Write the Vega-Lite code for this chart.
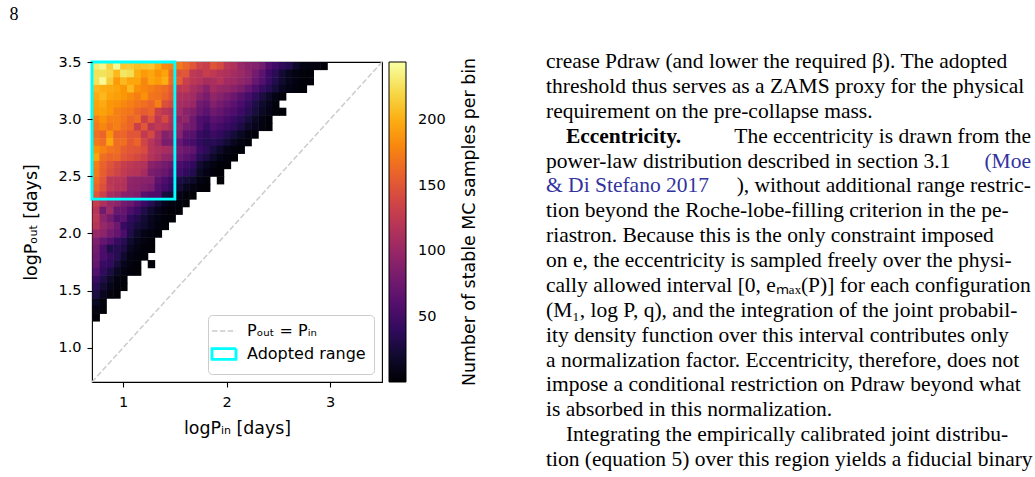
{
"$schema": "https://vega.github.io/schema/vega-lite/v6.json",
"background": "white",
"padding": {"left": 9, "top": 6, "right": 0, "bottom": 0},
"title": {"text": "8", "anchor": "start", "frame": "bounds", "font": "Liberation Serif", "fontSize": 18, "fontWeight": "normal", "color": "black", "dx": -13, "offset": 27},
"datasets": {
"cells": [
{"pin":0.7,"pout":3.4333,"n":232},{"pin":0.7667,"pout":3.4333,"n":238},{"pin":0.8333,"pout":3.4333,"n":218},{"pin":0.9,"pout":3.4333,"n":240},{"pin":0.9667,"pout":3.4333,"n":212},{"pin":1.0333,"pout":3.4333,"n":214},{"pin":1.1,"pout":3.4333,"n":208},{"pin":1.1667,"pout":3.4333,"n":210},{"pin":1.2333,"pout":3.4333,"n":212},{"pin":1.3,"pout":3.4333,"n":198},{"pin":1.3667,"pout":3.4333,"n":182},{"pin":1.4333,"pout":3.4333,"n":178},{"pin":1.5,"pout":3.4333,"n":172},{"pin":1.5667,"pout":3.4333,"n":162},{"pin":1.6333,"pout":3.4333,"n":150},{"pin":1.7,"pout":3.4333,"n":135},{"pin":1.7667,"pout":3.4333,"n":130},{"pin":1.8333,"pout":3.4333,"n":148},{"pin":1.9,"pout":3.4333,"n":140},{"pin":1.9667,"pout":3.4333,"n":120},{"pin":2.0333,"pout":3.4333,"n":115},{"pin":2.1,"pout":3.4333,"n":100},{"pin":2.1667,"pout":3.4333,"n":92},{"pin":2.2333,"pout":3.4333,"n":88},{"pin":2.3,"pout":3.4333,"n":80},{"pin":2.3667,"pout":3.4333,"n":58},{"pin":2.4333,"pout":3.4333,"n":48},{"pin":2.5,"pout":3.4333,"n":38},{"pin":2.5667,"pout":3.4333,"n":32},{"pin":2.6333,"pout":3.4333,"n":18},{"pin":2.7,"pout":3.4333,"n":10},{"pin":2.7667,"pout":3.4333,"n":8},{"pin":2.8333,"pout":3.4333,"n":6},{"pin":2.9,"pout":3.4333,"n":4},
{"pin":0.7,"pout":3.3667,"n":225},{"pin":0.7667,"pout":3.3667,"n":226},{"pin":0.8333,"pout":3.3667,"n":222},{"pin":0.9,"pout":3.3667,"n":205},{"pin":0.9667,"pout":3.3667,"n":228},{"pin":1.0333,"pout":3.3667,"n":224},{"pin":1.1,"pout":3.3667,"n":200},{"pin":1.1667,"pout":3.3667,"n":190},{"pin":1.2333,"pout":3.3667,"n":196},{"pin":1.3,"pout":3.3667,"n":186},{"pin":1.3667,"pout":3.3667,"n":195},{"pin":1.4333,"pout":3.3667,"n":165},{"pin":1.5,"pout":3.3667,"n":148},{"pin":1.5667,"pout":3.3667,"n":150},{"pin":1.6333,"pout":3.3667,"n":124},{"pin":1.7,"pout":3.3667,"n":120},{"pin":1.7667,"pout":3.3667,"n":130},{"pin":1.8333,"pout":3.3667,"n":125},{"pin":1.9,"pout":3.3667,"n":118},{"pin":1.9667,"pout":3.3667,"n":115},{"pin":2.0333,"pout":3.3667,"n":108},{"pin":2.1,"pout":3.3667,"n":102},{"pin":2.1667,"pout":3.3667,"n":94},{"pin":2.2333,"pout":3.3667,"n":80},{"pin":2.3,"pout":3.3667,"n":66},{"pin":2.3667,"pout":3.3667,"n":46},{"pin":2.4333,"pout":3.3667,"n":36},{"pin":2.5,"pout":3.3667,"n":22},{"pin":2.5667,"pout":3.3667,"n":13},{"pin":2.6333,"pout":3.3667,"n":8},{"pin":2.7,"pout":3.3667,"n":5},{"pin":2.7667,"pout":3.3667,"n":3},
{"pin":0.7,"pout":3.3,"n":226},{"pin":0.7667,"pout":3.3,"n":240},{"pin":0.8333,"pout":3.3,"n":215},{"pin":0.9,"pout":3.3,"n":190},{"pin":0.9667,"pout":3.3,"n":205},{"pin":1.0333,"pout":3.3,"n":196},{"pin":1.1,"pout":3.3,"n":196},{"pin":1.1667,"pout":3.3,"n":180},{"pin":1.2333,"pout":3.3,"n":196},{"pin":1.3,"pout":3.3,"n":190},{"pin":1.3667,"pout":3.3,"n":200},{"pin":1.4333,"pout":3.3,"n":165},{"pin":1.5,"pout":3.3,"n":155},{"pin":1.5667,"pout":3.3,"n":132},{"pin":1.6333,"pout":3.3,"n":122},{"pin":1.7,"pout":3.3,"n":118},{"pin":1.7667,"pout":3.3,"n":110},{"pin":1.8333,"pout":3.3,"n":112},{"pin":1.9,"pout":3.3,"n":118},{"pin":1.9667,"pout":3.3,"n":106},{"pin":2.0333,"pout":3.3,"n":104},{"pin":2.1,"pout":3.3,"n":96},{"pin":2.1667,"pout":3.3,"n":90},{"pin":2.2333,"pout":3.3,"n":72},{"pin":2.3,"pout":3.3,"n":60},{"pin":2.3667,"pout":3.3,"n":44},{"pin":2.4333,"pout":3.3,"n":32},{"pin":2.5,"pout":3.3,"n":20},{"pin":2.5667,"pout":3.3,"n":12},{"pin":2.6333,"pout":3.3,"n":7},{"pin":2.7,"pout":3.3,"n":4},{"pin":2.7667,"pout":3.3,"n":3},
{"pin":0.7,"pout":3.2333,"n":205},{"pin":0.7667,"pout":3.2333,"n":200},{"pin":0.8333,"pout":3.2333,"n":198},{"pin":0.9,"pout":3.2333,"n":195},{"pin":0.9667,"pout":3.2333,"n":188},{"pin":1.0333,"pout":3.2333,"n":205},{"pin":1.1,"pout":3.2333,"n":185},{"pin":1.1667,"pout":3.2333,"n":180},{"pin":1.2333,"pout":3.2333,"n":175},{"pin":1.3,"pout":3.2333,"n":170},{"pin":1.3667,"pout":3.2333,"n":165},{"pin":1.4333,"pout":3.2333,"n":155},{"pin":1.5,"pout":3.2333,"n":122},{"pin":1.5667,"pout":3.2333,"n":125},{"pin":1.6333,"pout":3.2333,"n":112},{"pin":1.7,"pout":3.2333,"n":104},{"pin":1.7667,"pout":3.2333,"n":92},{"pin":1.8333,"pout":3.2333,"n":108},{"pin":1.9,"pout":3.2333,"n":100},{"pin":1.9667,"pout":3.2333,"n":98},{"pin":2.0333,"pout":3.2333,"n":92},{"pin":2.1,"pout":3.2333,"n":84},{"pin":2.1667,"pout":3.2333,"n":70},{"pin":2.2333,"pout":3.2333,"n":58},{"pin":2.3,"pout":3.2333,"n":44},{"pin":2.3667,"pout":3.2333,"n":34},{"pin":2.4333,"pout":3.2333,"n":24},{"pin":2.5,"pout":3.2333,"n":14},{"pin":2.5667,"pout":3.2333,"n":9},{"pin":2.6333,"pout":3.2333,"n":5},{"pin":2.7,"pout":3.2333,"n":3},
{"pin":0.7,"pout":3.1667,"n":198},{"pin":0.7667,"pout":3.1667,"n":205},{"pin":0.8333,"pout":3.1667,"n":195},{"pin":0.9,"pout":3.1667,"n":192},{"pin":0.9667,"pout":3.1667,"n":188},{"pin":1.0333,"pout":3.1667,"n":182},{"pin":1.1,"pout":3.1667,"n":175},{"pin":1.1667,"pout":3.1667,"n":185},{"pin":1.2333,"pout":3.1667,"n":170},{"pin":1.3,"pout":3.1667,"n":168},{"pin":1.3667,"pout":3.1667,"n":160},{"pin":1.4333,"pout":3.1667,"n":150},{"pin":1.5,"pout":3.1667,"n":115},{"pin":1.5667,"pout":3.1667,"n":112},{"pin":1.6333,"pout":3.1667,"n":106},{"pin":1.7,"pout":3.1667,"n":92},{"pin":1.7667,"pout":3.1667,"n":82},{"pin":1.8333,"pout":3.1667,"n":96},{"pin":1.9,"pout":3.1667,"n":90},{"pin":1.9667,"pout":3.1667,"n":82},{"pin":2.0333,"pout":3.1667,"n":74},{"pin":2.1,"pout":3.1667,"n":62},{"pin":2.1667,"pout":3.1667,"n":52},{"pin":2.2333,"pout":3.1667,"n":40},{"pin":2.3,"pout":3.1667,"n":28},{"pin":2.3667,"pout":3.1667,"n":18},{"pin":2.4333,"pout":3.1667,"n":10},{"pin":2.5,"pout":3.1667,"n":4},
{"pin":0.7,"pout":3.1,"n":194},{"pin":0.7667,"pout":3.1,"n":198},{"pin":0.8333,"pout":3.1,"n":188},{"pin":0.9,"pout":3.1,"n":185},{"pin":0.9667,"pout":3.1,"n":180},{"pin":1.0333,"pout":3.1,"n":175},{"pin":1.1,"pout":3.1,"n":170},{"pin":1.1667,"pout":3.1,"n":166},{"pin":1.2333,"pout":3.1,"n":160},{"pin":1.3,"pout":3.1,"n":175},{"pin":1.3667,"pout":3.1,"n":146},{"pin":1.4333,"pout":3.1,"n":140},{"pin":1.5,"pout":3.1,"n":110},{"pin":1.5667,"pout":3.1,"n":106},{"pin":1.6333,"pout":3.1,"n":100},{"pin":1.7,"pout":3.1,"n":78},{"pin":1.7667,"pout":3.1,"n":72},{"pin":1.8333,"pout":3.1,"n":88},{"pin":1.9,"pout":3.1,"n":80},{"pin":1.9667,"pout":3.1,"n":72},{"pin":2.0333,"pout":3.1,"n":64},{"pin":2.1,"pout":3.1,"n":54},{"pin":2.1667,"pout":3.1,"n":42},{"pin":2.2333,"pout":3.1,"n":30},{"pin":2.3,"pout":3.1,"n":20},{"pin":2.3667,"pout":3.1,"n":12},{"pin":2.4333,"pout":3.1,"n":5},
{"pin":0.7,"pout":3.0333,"n":192},{"pin":0.7667,"pout":3.0333,"n":194},{"pin":0.8333,"pout":3.0333,"n":188},{"pin":0.9,"pout":3.0333,"n":176},{"pin":0.9667,"pout":3.0333,"n":172},{"pin":1.0333,"pout":3.0333,"n":170},{"pin":1.1,"pout":3.0333,"n":160},{"pin":1.1667,"pout":3.0333,"n":155},{"pin":1.2333,"pout":3.0333,"n":160},{"pin":1.3,"pout":3.0333,"n":132},{"pin":1.3667,"pout":3.0333,"n":122},{"pin":1.4333,"pout":3.0333,"n":118},{"pin":1.5,"pout":3.0333,"n":106},{"pin":1.5667,"pout":3.0333,"n":92},{"pin":1.6333,"pout":3.0333,"n":86},{"pin":1.7,"pout":3.0333,"n":72},{"pin":1.7667,"pout":3.0333,"n":64},{"pin":1.8333,"pout":3.0333,"n":76},{"pin":1.9,"pout":3.0333,"n":70},{"pin":1.9667,"pout":3.0333,"n":62},{"pin":2.0333,"pout":3.0333,"n":56},{"pin":2.1,"pout":3.0333,"n":46},{"pin":2.1667,"pout":3.0333,"n":36},{"pin":2.2333,"pout":3.0333,"n":26},{"pin":2.3,"pout":3.0333,"n":16},{"pin":2.3667,"pout":3.0333,"n":10},{"pin":2.4333,"pout":3.0333,"n":5},{"pin":2.5,"pout":3.0333,"n":3},
{"pin":0.7,"pout":2.9667,"n":176},{"pin":0.7667,"pout":2.9667,"n":186},{"pin":0.8333,"pout":2.9667,"n":176},{"pin":0.9,"pout":2.9667,"n":176},{"pin":0.9667,"pout":2.9667,"n":170},{"pin":1.0333,"pout":2.9667,"n":160},{"pin":1.1,"pout":2.9667,"n":165},{"pin":1.1667,"pout":2.9667,"n":132},{"pin":1.2333,"pout":2.9667,"n":150},{"pin":1.3,"pout":2.9667,"n":122},{"pin":1.3667,"pout":2.9667,"n":140},{"pin":1.4333,"pout":2.9667,"n":116},{"pin":1.5,"pout":2.9667,"n":92},{"pin":1.5667,"pout":2.9667,"n":96},{"pin":1.6333,"pout":2.9667,"n":76},{"pin":1.7,"pout":2.9667,"n":58},{"pin":1.7667,"pout":2.9667,"n":52},{"pin":1.8333,"pout":2.9667,"n":64},{"pin":1.9,"pout":2.9667,"n":60},{"pin":1.9667,"pout":2.9667,"n":52},{"pin":2.0333,"pout":2.9667,"n":44},{"pin":2.1,"pout":2.9667,"n":36},{"pin":2.1667,"pout":2.9667,"n":26},{"pin":2.2333,"pout":2.9667,"n":16},{"pin":2.3,"pout":2.9667,"n":9},{"pin":2.3667,"pout":2.9667,"n":4},
{"pin":0.7,"pout":2.9,"n":172},{"pin":0.7667,"pout":2.9,"n":180},{"pin":0.8333,"pout":2.9,"n":170},{"pin":0.9,"pout":2.9,"n":176},{"pin":0.9667,"pout":2.9,"n":166},{"pin":1.0333,"pout":2.9,"n":160},{"pin":1.1,"pout":2.9,"n":132},{"pin":1.1667,"pout":2.9,"n":150},{"pin":1.2333,"pout":2.9,"n":118},{"pin":1.3,"pout":2.9,"n":126},{"pin":1.3667,"pout":2.9,"n":120},{"pin":1.4333,"pout":2.9,"n":112},{"pin":1.5,"pout":2.9,"n":96},{"pin":1.5667,"pout":2.9,"n":82},{"pin":1.6333,"pout":2.9,"n":76},{"pin":1.7,"pout":2.9,"n":58},{"pin":1.7667,"pout":2.9,"n":44},{"pin":1.8333,"pout":2.9,"n":56},{"pin":1.9,"pout":2.9,"n":50},{"pin":1.9667,"pout":2.9,"n":44},{"pin":2.0333,"pout":2.9,"n":38},{"pin":2.1,"pout":2.9,"n":28},{"pin":2.1667,"pout":2.9,"n":18},{"pin":2.2333,"pout":2.9,"n":12},{"pin":2.3,"pout":2.9,"n":6},{"pin":2.3667,"pout":2.9,"n":3},
{"pin":0.7,"pout":2.8333,"n":166},{"pin":0.7667,"pout":2.8333,"n":160},{"pin":0.8333,"pout":2.8333,"n":186},{"pin":0.9,"pout":2.8333,"n":160},{"pin":0.9667,"pout":2.8333,"n":160},{"pin":1.0333,"pout":2.8333,"n":150},{"pin":1.1,"pout":2.8333,"n":150},{"pin":1.1667,"pout":2.8333,"n":126},{"pin":1.2333,"pout":2.8333,"n":140},{"pin":1.3,"pout":2.8333,"n":112},{"pin":1.3667,"pout":2.8333,"n":88},{"pin":1.4333,"pout":2.8333,"n":96},{"pin":1.5,"pout":2.8333,"n":90},{"pin":1.5667,"pout":2.8333,"n":66},{"pin":1.6333,"pout":2.8333,"n":62},{"pin":1.7,"pout":2.8333,"n":44},{"pin":1.7667,"pout":2.8333,"n":38},{"pin":1.8333,"pout":2.8333,"n":46},{"pin":1.9,"pout":2.8333,"n":40},{"pin":1.9667,"pout":2.8333,"n":32},{"pin":2.0333,"pout":2.8333,"n":24},{"pin":2.1,"pout":2.8333,"n":16},{"pin":2.1667,"pout":2.8333,"n":9},{"pin":2.2333,"pout":2.8333,"n":4},
{"pin":0.7,"pout":2.7667,"n":172},{"pin":0.7667,"pout":2.7667,"n":166},{"pin":0.8333,"pout":2.7667,"n":196},{"pin":0.9,"pout":2.7667,"n":166},{"pin":0.9667,"pout":2.7667,"n":166},{"pin":1.0333,"pout":2.7667,"n":152},{"pin":1.1,"pout":2.7667,"n":160},{"pin":1.1667,"pout":2.7667,"n":136},{"pin":1.2333,"pout":2.7667,"n":120},{"pin":1.3,"pout":2.7667,"n":106},{"pin":1.3667,"pout":2.7667,"n":82},{"pin":1.4333,"pout":2.7667,"n":86},{"pin":1.5,"pout":2.7667,"n":72},{"pin":1.5667,"pout":2.7667,"n":58},{"pin":1.6333,"pout":2.7667,"n":52},{"pin":1.7,"pout":2.7667,"n":40},{"pin":1.7667,"pout":2.7667,"n":34},{"pin":1.8333,"pout":2.7667,"n":36},{"pin":1.9,"pout":2.7667,"n":30},{"pin":1.9667,"pout":2.7667,"n":22},{"pin":2.0333,"pout":2.7667,"n":14},{"pin":2.1,"pout":2.7667,"n":8},{"pin":2.1667,"pout":2.7667,"n":4},
{"pin":0.7,"pout":2.7,"n":186},{"pin":0.7667,"pout":2.7,"n":178},{"pin":0.8333,"pout":2.7,"n":170},{"pin":0.9,"pout":2.7,"n":166},{"pin":0.9667,"pout":2.7,"n":156},{"pin":1.0333,"pout":2.7,"n":150},{"pin":1.1,"pout":2.7,"n":148},{"pin":1.1667,"pout":2.7,"n":142},{"pin":1.2333,"pout":2.7,"n":120},{"pin":1.3,"pout":2.7,"n":114},{"pin":1.3667,"pout":2.7,"n":110},{"pin":1.4333,"pout":2.7,"n":108},{"pin":1.5,"pout":2.7,"n":80},{"pin":1.5667,"pout":2.7,"n":74},{"pin":1.6333,"pout":2.7,"n":68},{"pin":1.7,"pout":2.7,"n":46},{"pin":1.7667,"pout":2.7,"n":38},{"pin":1.8333,"pout":2.7,"n":26},{"pin":1.9,"pout":2.7,"n":18},{"pin":1.9667,"pout":2.7,"n":10},{"pin":2.0333,"pout":2.7,"n":5},{"pin":2.1,"pout":2.7,"n":3},
{"pin":0.7,"pout":2.6333,"n":196},{"pin":0.7667,"pout":2.6333,"n":166},{"pin":0.8333,"pout":2.6333,"n":160},{"pin":0.9,"pout":2.6333,"n":162},{"pin":0.9667,"pout":2.6333,"n":150},{"pin":1.0333,"pout":2.6333,"n":146},{"pin":1.1,"pout":2.6333,"n":140},{"pin":1.1667,"pout":2.6333,"n":132},{"pin":1.2333,"pout":2.6333,"n":118},{"pin":1.3,"pout":2.6333,"n":110},{"pin":1.3667,"pout":2.6333,"n":98},{"pin":1.4333,"pout":2.6333,"n":96},{"pin":1.5,"pout":2.6333,"n":72},{"pin":1.5667,"pout":2.6333,"n":64},{"pin":1.6333,"pout":2.6333,"n":56},{"pin":1.7,"pout":2.6333,"n":36},{"pin":1.7667,"pout":2.6333,"n":28},{"pin":1.8333,"pout":2.6333,"n":18},{"pin":1.9,"pout":2.6333,"n":10},{"pin":1.9667,"pout":2.6333,"n":5},{"pin":2.0333,"pout":2.6333,"n":3},
{"pin":0.7,"pout":2.5667,"n":175},{"pin":0.7667,"pout":2.5667,"n":158},{"pin":0.8333,"pout":2.5667,"n":148},{"pin":0.9,"pout":2.5667,"n":140},{"pin":0.9667,"pout":2.5667,"n":130},{"pin":1.0333,"pout":2.5667,"n":124},{"pin":1.1,"pout":2.5667,"n":120},{"pin":1.1667,"pout":2.5667,"n":116},{"pin":1.2333,"pout":2.5667,"n":92},{"pin":1.3,"pout":2.5667,"n":86},{"pin":1.3667,"pout":2.5667,"n":80},{"pin":1.4333,"pout":2.5667,"n":72},{"pin":1.5,"pout":2.5667,"n":54},{"pin":1.5667,"pout":2.5667,"n":48},{"pin":1.6333,"pout":2.5667,"n":40},{"pin":1.7,"pout":2.5667,"n":22},{"pin":1.7667,"pout":2.5667,"n":14},{"pin":1.8333,"pout":2.5667,"n":8},{"pin":1.9,"pout":2.5667,"n":4},{"pin":1.9667,"pout":2.5667,"n":2},
{"pin":0.7,"pout":2.5,"n":172},{"pin":0.7667,"pout":2.5,"n":156},{"pin":0.8333,"pout":2.5,"n":144},{"pin":0.9,"pout":2.5,"n":136},{"pin":0.9667,"pout":2.5,"n":126},{"pin":1.0333,"pout":2.5,"n":120},{"pin":1.1,"pout":2.5,"n":118},{"pin":1.1667,"pout":2.5,"n":108},{"pin":1.2333,"pout":2.5,"n":84},{"pin":1.3,"pout":2.5,"n":78},{"pin":1.3667,"pout":2.5,"n":72},{"pin":1.4333,"pout":2.5,"n":62},{"pin":1.5,"pout":2.5,"n":48},{"pin":1.5667,"pout":2.5,"n":40},{"pin":1.6333,"pout":2.5,"n":32},{"pin":1.7,"pout":2.5,"n":16},{"pin":1.7667,"pout":2.5,"n":9},{"pin":1.8333,"pout":2.5,"n":4},{"pin":1.9,"pout":2.5,"n":2},
{"pin":0.7,"pout":2.4333,"n":165},{"pin":0.7667,"pout":2.4333,"n":150},{"pin":0.8333,"pout":2.4333,"n":122},{"pin":0.9,"pout":2.4333,"n":120},{"pin":0.9667,"pout":2.4333,"n":118},{"pin":1.0333,"pout":2.4333,"n":96},{"pin":1.1,"pout":2.4333,"n":94},{"pin":1.1667,"pout":2.4333,"n":92},{"pin":1.2333,"pout":2.4333,"n":90},{"pin":1.3,"pout":2.4333,"n":66},{"pin":1.3667,"pout":2.4333,"n":56},{"pin":1.4333,"pout":2.4333,"n":46},{"pin":1.5,"pout":2.4333,"n":28},{"pin":1.5667,"pout":2.4333,"n":24},{"pin":1.6333,"pout":2.4333,"n":18},{"pin":1.7,"pout":2.4333,"n":8},{"pin":1.7667,"pout":2.4333,"n":5},{"pin":1.9,"pout":2.4333,"n":2},
{"pin":0.7,"pout":2.3667,"n":160},{"pin":0.7667,"pout":2.3667,"n":145},{"pin":0.8333,"pout":2.3667,"n":124},{"pin":0.9,"pout":2.3667,"n":118},{"pin":0.9667,"pout":2.3667,"n":116},{"pin":1.0333,"pout":2.3667,"n":94},{"pin":1.1,"pout":2.3667,"n":92},{"pin":1.1667,"pout":2.3667,"n":88},{"pin":1.2333,"pout":2.3667,"n":82},{"pin":1.3,"pout":2.3667,"n":60},{"pin":1.3667,"pout":2.3667,"n":50},{"pin":1.4333,"pout":2.3667,"n":40},{"pin":1.5,"pout":2.3667,"n":22},{"pin":1.5667,"pout":2.3667,"n":14},{"pin":1.6333,"pout":2.3667,"n":8},{"pin":1.7,"pout":2.3667,"n":4},{"pin":1.7667,"pout":2.3667,"n":2},
{"pin":0.7,"pout":2.3,"n":150},{"pin":0.7667,"pout":2.3,"n":132},{"pin":0.8333,"pout":2.3,"n":110},{"pin":0.9,"pout":2.3,"n":104},{"pin":0.9667,"pout":2.3,"n":92},{"pin":1.0333,"pout":2.3,"n":90},{"pin":1.1,"pout":2.3,"n":86},{"pin":1.1667,"pout":2.3,"n":62},{"pin":1.2333,"pout":2.3,"n":58},{"pin":1.3,"pout":2.3,"n":56},{"pin":1.3667,"pout":2.3,"n":26},{"pin":1.4333,"pout":2.3,"n":22},{"pin":1.5,"pout":2.3,"n":10},{"pin":1.5667,"pout":2.3,"n":5},{"pin":1.6333,"pout":2.3,"n":2},
{"pin":0.7,"pout":2.2333,"n":130},{"pin":0.7667,"pout":2.2333,"n":114},{"pin":0.8333,"pout":2.2333,"n":100},{"pin":0.9,"pout":2.2333,"n":94},{"pin":0.9667,"pout":2.2333,"n":80},{"pin":1.0333,"pout":2.2333,"n":74},{"pin":1.1,"pout":2.2333,"n":60},{"pin":1.1667,"pout":2.2333,"n":46},{"pin":1.2333,"pout":2.2333,"n":34},{"pin":1.3,"pout":2.2333,"n":22},{"pin":1.3667,"pout":2.2333,"n":12},{"pin":1.4333,"pout":2.2333,"n":8},{"pin":1.5,"pout":2.2333,"n":5},{"pin":1.5667,"pout":2.2333,"n":2},
{"pin":0.7,"pout":2.1667,"n":120},{"pin":0.7667,"pout":2.1667,"n":78},{"pin":0.8333,"pout":2.1667,"n":104},{"pin":0.9,"pout":2.1667,"n":72},{"pin":0.9667,"pout":2.1667,"n":70},{"pin":1.0333,"pout":2.1667,"n":56},{"pin":1.1,"pout":2.1667,"n":45},{"pin":1.1667,"pout":2.1667,"n":30},{"pin":1.2333,"pout":2.1667,"n":20},{"pin":1.3,"pout":2.1667,"n":12},{"pin":1.3667,"pout":2.1667,"n":6},{"pin":1.4333,"pout":2.1667,"n":4},{"pin":1.5,"pout":2.1667,"n":2},
{"pin":0.7,"pout":2.1,"n":124},{"pin":0.7667,"pout":2.1,"n":94},{"pin":0.8333,"pout":2.1,"n":80},{"pin":0.9,"pout":2.1,"n":60},{"pin":0.9667,"pout":2.1,"n":64},{"pin":1.0333,"pout":2.1,"n":40},{"pin":1.1,"pout":2.1,"n":32},{"pin":1.1667,"pout":2.1,"n":22},{"pin":1.2333,"pout":2.1,"n":14},{"pin":1.3,"pout":2.1,"n":8},{"pin":1.3667,"pout":2.1,"n":4},{"pin":1.4333,"pout":2.1,"n":2},
{"pin":0.7,"pout":2.0333,"n":120},{"pin":0.7667,"pout":2.0333,"n":100},{"pin":0.8333,"pout":2.0333,"n":90},{"pin":0.9,"pout":2.0333,"n":75},{"pin":0.9667,"pout":2.0333,"n":45},{"pin":1.0333,"pout":2.0333,"n":35},{"pin":1.1,"pout":2.0333,"n":25},{"pin":1.1667,"pout":2.0333,"n":20},{"pin":1.2333,"pout":2.0333,"n":12},{"pin":1.3,"pout":2.0333,"n":6},{"pin":1.3667,"pout":2.0333,"n":3},
{"pin":0.7,"pout":1.9667,"n":100},{"pin":0.7667,"pout":1.9667,"n":95},{"pin":0.8333,"pout":1.9667,"n":80},{"pin":0.9,"pout":1.9667,"n":70},{"pin":0.9667,"pout":1.9667,"n":55},{"pin":1.0333,"pout":1.9667,"n":30},{"pin":1.1,"pout":1.9667,"n":18},{"pin":1.1667,"pout":1.9667,"n":10},{"pin":1.2333,"pout":1.9667,"n":6},{"pin":1.3,"pout":1.9667,"n":3},
{"pin":0.7,"pout":1.9,"n":85},{"pin":0.7667,"pout":1.9,"n":70},{"pin":0.8333,"pout":1.9,"n":60},{"pin":0.9,"pout":1.9,"n":45},{"pin":0.9667,"pout":1.9,"n":35},{"pin":1.0333,"pout":1.9,"n":20},{"pin":1.1,"pout":1.9,"n":12},{"pin":1.1667,"pout":1.9,"n":6},{"pin":1.2333,"pout":1.9,"n":3},
{"pin":0.7,"pout":1.8333,"n":80},{"pin":0.7667,"pout":1.8333,"n":55},{"pin":0.8333,"pout":1.8333,"n":30},{"pin":0.9,"pout":1.8333,"n":35},{"pin":0.9667,"pout":1.8333,"n":28},{"pin":1.0333,"pout":1.8333,"n":14},{"pin":1.1,"pout":1.8333,"n":8},{"pin":1.1667,"pout":1.8333,"n":4},{"pin":1.2333,"pout":1.8333,"n":2},
{"pin":0.7,"pout":1.7667,"n":75},{"pin":0.7667,"pout":1.7667,"n":55},{"pin":0.8333,"pout":1.7667,"n":45},{"pin":0.9,"pout":1.7667,"n":35},{"pin":0.9667,"pout":1.7667,"n":20},{"pin":1.0333,"pout":1.7667,"n":10},{"pin":1.1,"pout":1.7667,"n":5},{"pin":1.1667,"pout":1.7667,"n":2},
{"pin":0.7,"pout":1.7,"n":70},{"pin":0.7667,"pout":1.7,"n":45},{"pin":0.8333,"pout":1.7,"n":40},{"pin":0.9,"pout":1.7,"n":25},{"pin":0.9667,"pout":1.7,"n":12},{"pin":1.0333,"pout":1.7,"n":6},{"pin":1.1,"pout":1.7,"n":3},{"pin":1.2333,"pout":1.7,"n":2},
{"pin":0.7,"pout":1.6333,"n":60},{"pin":0.7667,"pout":1.6333,"n":40},{"pin":0.8333,"pout":1.6333,"n":28},{"pin":0.9,"pout":1.6333,"n":15},{"pin":0.9667,"pout":1.6333,"n":8},{"pin":1.0333,"pout":1.6333,"n":4},{"pin":1.1,"pout":1.6333,"n":2},
{"pin":0.7,"pout":1.5667,"n":45},{"pin":0.7667,"pout":1.5667,"n":30},{"pin":0.8333,"pout":1.5667,"n":18},{"pin":0.9,"pout":1.5667,"n":8},{"pin":0.9667,"pout":1.5667,"n":3},
{"pin":0.7,"pout":1.5,"n":35},{"pin":0.7667,"pout":1.5,"n":22},{"pin":0.8333,"pout":1.5,"n":12},{"pin":0.9,"pout":1.5,"n":5},{"pin":0.9667,"pout":1.5,"n":2},
{"pin":0.7,"pout":1.4333,"n":28},{"pin":0.7667,"pout":1.4333,"n":14},{"pin":0.8333,"pout":1.4333,"n":6},{"pin":0.9,"pout":1.4333,"n":2},
{"pin":0.7,"pout":1.3667,"n":15},{"pin":0.7667,"pout":1.3667,"n":5},
{"pin":0.7,"pout":1.3,"n":8},{"pin":0.7667,"pout":1.3,"n":3},
{"pin":0.7,"pout":1.2333,"n":4}
],
"diag": [{"pin":0.7,"pout":0.7,"item":"Pₒᵤₜ = Pᵢₙ"},{"pin":3.5,"pout":3.5,"item":"Pₒᵤₜ = Pᵢₙ"}],
"box": [{"pin":0.7,"pin2":1.5,"pout":2.3,"pout2":3.5,"item":"Adopted range"}],
"para": [
{"line":0,"side":"left","kind":"body","text":"crease Pdraw (and lower the required β). The adopted"},
{"line":1,"side":"left","kind":"body","text":"threshold thus serves as a ZAMS proxy for the physical"},
{"line":2,"side":"left","kind":"body","text":"requirement on the pre-collapse mass."},
{"line":3,"side":"indent","kind":"head","text":"Eccentricity."},
{"line":3,"side":"right","kind":"body","text":"The eccentricity is drawn from the"},
{"line":4,"side":"left","kind":"body","text":"power-law distribution described in section 3.1"},
{"line":4,"side":"right","kind":"cite","text":"(Moe"},
{"line":5,"side":"left","kind":"cite","text":"& Di Stefano 2017"},
{"line":5,"side":"right","kind":"body","text":"), without additional range restric-"},
{"line":6,"side":"left","kind":"body","text":"tion beyond the Roche-lobe-filling criterion in the pe-"},
{"line":7,"side":"left","kind":"body","text":"riastron.  Because this is the only constraint imposed"},
{"line":8,"side":"left","kind":"body","text":"on e, the eccentricity is sampled freely over the physi-"},
{"line":9,"side":"left","kind":"body","text":"cally allowed interval [0, eₘₐₓ(P)] for each configuration"},
{"line":10,"side":"left","kind":"body","text":"(M₁, log P,  q), and the integration of the joint probabil-"},
{"line":11,"side":"left","kind":"body","text":"ity density function over this interval contributes only"},
{"line":12,"side":"left","kind":"body","text":"a normalization factor. Eccentricity, therefore, does not"},
{"line":13,"side":"left","kind":"body","text":"impose a conditional restriction on Pdraw beyond what"},
{"line":14,"side":"left","kind":"body","text":"is absorbed in this normalization."},
{"line":15,"side":"indent","kind":"body","text":"Integrating the empirically calibrated joint distribu-"},
{"line":16,"side":"left","kind":"body","text":"tion (equation 5) over this region yields a fiducial binary"}
]
},
"hconcat": [
{
"width": 290, "height": 320,
"layer": [
{
"data": {"name": "cells"},
"mark": {"type": "rect", "binSpacing": 0},
"encoding": {
"x": {"field": "pin", "type": "quantitative", "bin": {"binned": true, "step": 0.0718}, "scale": {"domain": [0.7, 3.5], "nice": false, "zero": false}, "axis": {"values": [1, 2, 3], "format": "d", "title": "logPᵢₙ [days]", "labelPadding": 8, "titlePadding": 11}},
"y": {"field": "pout", "type": "quantitative", "bin": {"binned": true, "step": 0.0712}, "scale": {"domain": [0.7, 3.5], "nice": false, "zero": false}, "axis": {"values": [1, 1.5, 2, 2.5, 3, 3.5], "format": ".1f", "title": "logPₒᵤₜ [days]", "titlePadding": 17}},
"color": {"field": "n", "type": "quantitative", "scale": {"scheme": "inferno", "domain": [0.5, 244], "nice": false, "zero": false},
"legend": {"orient": "right", "offset": 4, "direction": "vertical", "gradientLength": 320, "gradientThickness": 17, "gradientStrokeColor": "black", "gradientStrokeWidth": 1, "values": [50, 100, 150, 200], "labelFont": "DejaVu Sans", "labelFontSize": 14.5, "labelColor": "black", "labelOffset": 12, "labelOverlap": false, "title": "Number of stable MC samples per bin", "titleOrient": "right", "titleAnchor": "middle", "titleLimit": 500, "titleFont": "DejaVu Sans", "titleFontSize": 17.4, "titleFontWeight": "normal", "titleColor": "black", "titlePadding": 15, "padding": 0,
"encode": {"title": {"update": {"angle": {"value": -90}, "baseline": {"value": "top"}}}}}}
}
},
{
"data": {"name": "diag"},
"mark": {"type": "line", "strokeDash": [5.5, 2.4], "strokeWidth": 1.5},
"encoding": {
"x": {"field": "pin", "type": "quantitative"},
"y": {"field": "pout", "type": "quantitative"},
"stroke": {"field": "item", "type": "nominal", "scale": {"domain": ["Pₒᵤₜ = Pᵢₙ", "Adopted range"], "range": ["#cccccc", "#00ffff"]},
"legend": {"title": null, "orient": "bottom-right", "offset": 8, "padding": 8, "fillColor": "rgba(255,255,255,0.85)", "strokeColor": "#cccccc", "cornerRadius": 4, "labelFont": "DejaVu Sans", "labelFontSize": 16, "labelColor": "black", "symbolSize": 576, "labelOffset": 15, "rowPadding": 3,
"encode": {"symbols": {"update": {"shape": {"signal": "datum.value === 'Adopted range' ? 'M-1,-0.45H1V0.45H-1Z' : 'M-1,0H1'"}, "strokeDash": {"signal": "datum.value === 'Adopted range' ? [1,0] : [5.5,2.4]"}, "strokeWidth": {"signal": "datum.value === 'Adopted range' ? 2.9 : 1.5"}, "fill": {"value": "transparent"}, "opacity": {"value": 1}}}}}}
}
},
{
"data": {"name": "box"},
"mark": {"type": "rect", "filled": false, "strokeWidth": 2.9},
"encoding": {
"x": {"field": "pin", "type": "quantitative"},
"x2": {"field": "pin2"},
"y": {"field": "pout", "type": "quantitative"},
"y2": {"field": "pout2"},
"stroke": {"field": "item", "type": "nominal"}
}
}
]
},
{
"width": 485, "height": 398,
"view": {"stroke": null},
"data": {"name": "para"},
"layer": [
{
"transform": [{"filter": "datum.side === 'left'"}],
"mark": {"type": "text", "align": "left", "baseline": "middle", "font": "Liberation Serif", "fontSize": 21.5},
"encoding": {
"x": {"datum": 0, "type": "quantitative", "scale": {"domain": [0, 1], "nice": false, "zero": false}, "axis": null},
"y": {"field": "line", "type": "quantitative", "scale": {"domain": [0, 16], "reverse": true, "nice": false, "zero": false}, "axis": null},
"text": {"field": "text"},
"color": {"field": "kind", "type": "nominal", "scale": {"domain": ["body", "head", "cite"], "range": ["#000000", "#000000", "#3333a0"]}, "legend": null}
}
},
{
"transform": [{"filter": "datum.side === 'indent' && datum.kind === 'body'"}],
"mark": {"type": "text", "align": "left", "baseline": "middle", "font": "Liberation Serif", "fontSize": 21.5},
"encoding": {
"x": {"datum": 0.041, "type": "quantitative"},
"y": {"field": "line", "type": "quantitative"},
"text": {"field": "text"},
"color": {"field": "kind", "type": "nominal", "legend": null}
}
},
{
"transform": [{"filter": "datum.kind === 'head'"}],
"mark": {"type": "text", "align": "left", "baseline": "middle", "font": "Liberation Serif", "fontSize": 21.5, "fontWeight": "bold"},
"encoding": {
"x": {"datum": 0.041, "type": "quantitative"},
"y": {"field": "line", "type": "quantitative"},
"text": {"field": "text"},
"color": {"field": "kind", "type": "nominal", "legend": null}
}
},
{
"transform": [{"filter": "datum.side === 'right'"}],
"mark": {"type": "text", "align": "right", "baseline": "middle", "font": "Liberation Serif", "fontSize": 21.5},
"encoding": {
"x": {"datum": 1, "type": "quantitative"},
"y": {"field": "line", "type": "quantitative"},
"text": {"field": "text"},
"color": {"field": "kind", "type": "nominal", "legend": null}
}
}
]
}
],
"spacing": 66,
"resolve": {"scale": {"color": "independent", "stroke": "independent", "x": "independent", "y": "independent"}},
"config": {
"view": {"stroke": "black", "strokeWidth": 1.1},
"axis": {"domain": false, "grid": false, "tickColor": "black", "tickSize": 5, "tickWidth": 1.1, "labelColor": "black", "labelFont": "DejaVu Sans", "labelFontSize": 14.5, "labelPadding": 6, "titleFont": "DejaVu Sans", "titleFontSize": 17.4, "titleFontWeight": "normal", "titleColor": "black"}
}
}
